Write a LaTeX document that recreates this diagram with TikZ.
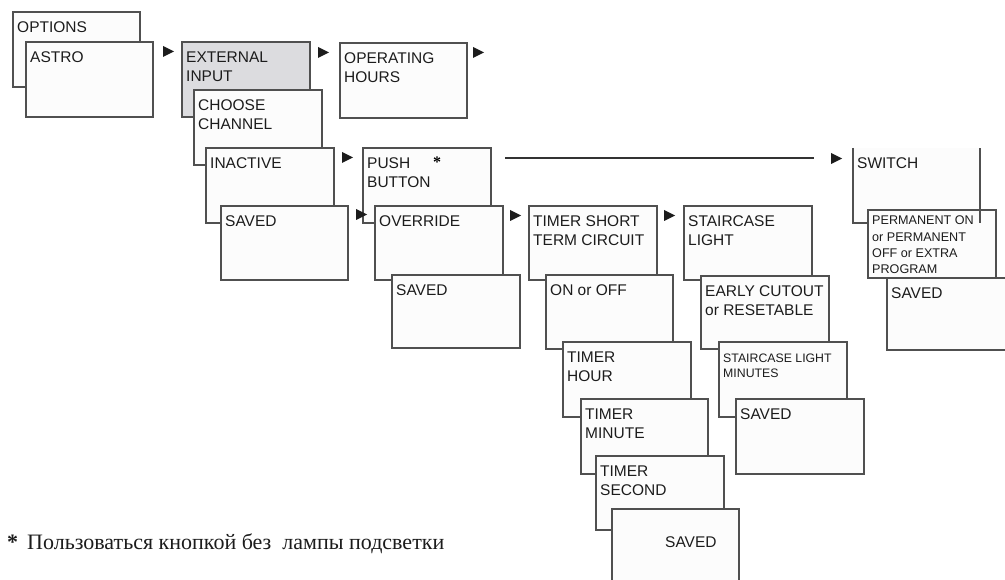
\documentclass[tikz,border=0pt]{standalone}
\usepackage{fontspec}
\setmainfont{Liberation Sans}
\newfontfamily\seriffont{Liberation Serif}

\definecolor{edge}{HTML}{505050}
\definecolor{paper}{HTML}{FCFCFC}
\definecolor{shade}{HTML}{DCDCDF}
\definecolor{ink}{HTML}{1C1C1C}

\tikzset{
  card/.style={draw=edge, fill=paper, line width=1.1pt, inner sep=0pt,
               outer sep=0pt, anchor=north west},
  cardtext/.style={anchor=north west, inner sep=0pt, align=left, text=ink,
                   font=\fontsize{15.5}{19}\selectfont},
  smalltext/.style={cardtext, font=\fontsize{12.3}{15.7}\selectfont},
  rule line/.style={draw=ink!90, line width=2.6pt},
}

% a menu card: name, left, top, width, height, extra options
\newcommand\cardbox[6]{%
  \node[card, minimum width=#4pt, minimum height=#5pt, #6] (#1) at (#2,#3) {};}
% a card with its caption set at the upper left corner
\newcommand\menucard[7]{%
  \cardbox{#1}{#2}{#3}{#4}{#5}{#6}%
  \node[cardtext] (#1-t) at ([xshift=4pt,yshift=-8.5pt]#1.north west)
       {\rule{0pt}{12pt}#7};}
% solid pointer triangle, given by its upper left corner
\newcommand\pointer[2]{\fill[ink] (#1,#2) -- ++(11,5.5) -- ++(-11,5.5) -- cycle;}

\begin{document}
\begin{tikzpicture}[x=1pt, y=-1pt]
\useasboundingbox (0,0) rectangle (1005,580);
\fill[white] (0,0) rectangle (1005,580);
\clip (0,0) rectangle (1005,580);

% first row
\menucard{options}{13}{12}{127}{75}{}{OPTIONS}
\menucard{astro}{26}{42}{127}{75}{}{ASTRO}
\pointer{163}{46}
\menucard{extin}{182}{42}{128}{75}{fill=shade}{EXTERNAL\\INPUT}
\menucard{choose}{194}{90}{128}{75}{}{CHOOSE\\CHANNEL}
\menucard{inact}{206}{148}{128}{75}{}{INACTIVE}
\menucard{saveda}{221}{206}{127}{74}{}{SAVED}
\pointer{318}{47}
\menucard{ophours}{340}{43}{127}{75}{}{OPERATING\\HOURS}
\pointer{473}{47}

% push button branch
\pointer{342}{152}
\menucard{push}{363}{148}{128}{75}{}{PUSH\\BUTTON}
\node[anchor=base west, inner sep=0pt, font=\seriffont\bfseries\fontsize{16}{16}\selectfont]
  (pushstar) at (433,168) {*};
\pointer{356}{209}
\menucard{override}{375}{206}{128}{74}{}{OVERRIDE}
\menucard{savedb}{392}{275}{128}{73}{}{SAVED}

% timer short term circuit
\pointer{510}{210}
\menucard{tstc}{529}{206}{128}{74}{}{TIMER SHORT\\TERM CIRCUIT}
\menucard{onoff}{546}{275}{127}{74}{}{ON or OFF}
\menucard{thour}{563}{342}{128}{75}{}{TIMER\\HOUR}
\menucard{tmin}{581}{399}{127}{75}{}{TIMER\\MINUTE}
\menucard{tsec}{596}{456}{128}{74}{}{TIMER\\SECOND}
\cardbox{savedc}{612}{509}{127}{75}{}
\node[cardtext, anchor=base west] (savedc-t) at (665,547) {SAVED};

% staircase light
\pointer{664}{210}
\menucard{stair}{684}{206}{128}{74}{}{STAIRCASE\\LIGHT}
\menucard{early}{701}{276}{128}{73}{}{EARLY CUTOUT\\or RESETABLE}
\cardbox{stairmin}{719}{342}{128}{75}{}
\node[smalltext] (stairmin-t) at ([xshift=4pt,yshift=-10pt]stairmin.north west)
     {\rule{0pt}{10pt}STAIRCASE LIGHT\\MINUTES};
\menucard{savedd}{736}{399}{128}{75}{}{SAVED}

% switch branch
\coordinate (linestart) at (505,158);
\coordinate (lineend) at (814,158);
\draw[rule line] (linestart) -- (lineend);
\pointer{831}{153}
\cardbox{switch}{853}{148}{127}{75}{draw=none}
\draw[edge, line width=1.1pt] (switch.north west) -- (switch.south west)
  -- (switch.south east) -- (switch.north east);
\node[cardtext] (switch-t) at ([xshift=4pt,yshift=-8.5pt]switch.north west)
     {\rule{0pt}{12pt}SWITCH};
\cardbox{perm}{868}{210}{128}{68}{}
\begin{scope}
  \clip (868,215) rectangle (996,278);
  \node[smalltext, font=\fontsize{12.6}{16.4}\selectfont] (perm-t)
    at ([xshift=4pt,yshift=-4.5pt]perm.north west)
    {\rule{0pt}{10pt}PERMANENT ON\\or PERMANENT\\OFF or EXTRA\\PROGRAM};
\end{scope}
\draw[edge, line width=1.1pt] (switch.east |- perm.north) -- (switch.south east);
\menucard{savede}{887}{278}{128}{72}{}{SAVED}

% footnote
\node[anchor=base west, inner sep=0pt, text=ink,
      font=\seriffont\fontsize{22}{26}\selectfont] (note) at (7,549)
  {\textbf{*}\hspace{9pt}Пользоваться кнопкой без\ \ лампы подсветки};
\end{tikzpicture}
\end{document}
